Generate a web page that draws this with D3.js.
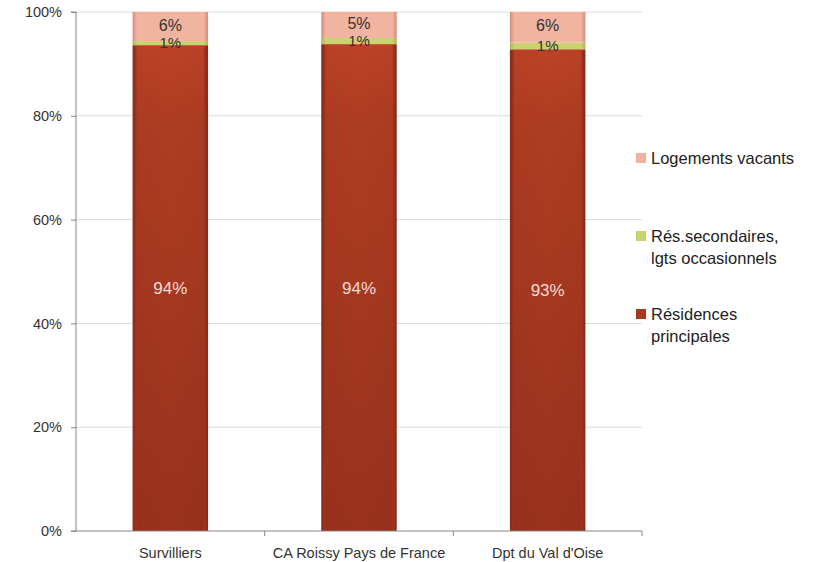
<!DOCTYPE html>
<html><head><meta charset="utf-8">
<script src="https://cdn.jsdelivr.net/npm/d3@7"></script>
<style>body{margin:0;background:#fff}</style>
</head><body>
<svg id="c" width="820" height="562"></svg>
<script>
const categories = ["Survilliers", "CA Roissy Pays de France", "Dpt du Val d'Oise"];
const principales = [93.6, 93.8, 92.8];
const secondaires = [0.8, 1.2, 1.3];
const vacants = [5.6, 5.0, 5.9];
const labelsPrincipales = ["94%", "94%", "93%"];
const labelsSecondaires = ["1%", "1%", "1%"];
const labelsVacants = ["6%", "5%", "6%"];
const yTicks = [0, 20, 40, 60, 80, 100];
const seriesNames = ["Résidences principales", "Rés.secondaires, lgts occasionnels", "Logements vacants"];

const svg = d3.select("#c");
const font = "Liberation Sans, Arial, sans-serif";
const m = {left: 76, right: 642, top: 12, bottom: 531};

const x = d3.scaleBand().domain(categories).range([m.left, m.right]).paddingInner(0.6).paddingOuter(0.3);
const xb = d3.scaleBand().domain(categories).range([m.left, m.right]);
const y = d3.scaleLinear().domain([0, 100]).range([m.bottom, m.top]);

const defs = svg.append("defs");
function grad(id, stops){
  const g = defs.append("linearGradient").attr("id", id).attr("x1",0).attr("x2",1).attr("y1",0).attr("y2",0);
  stops.forEach(s => g.append("stop").attr("offset", s[0]).attr("stop-color", s[1]));
}
grad("gP", [[0,"#862818"],[0.06,"#a5381f"],[0.5,"#ad3b21"],[0.94,"#a5381f"],[1,"#862818"]]);
grad("gS", [[0,"#a9b552"],[0.06,"#c9d46e"],[0.94,"#c9d46e"],[1,"#a9b552"]]);
grad("gV", [[0,"#d68c78"],[0.06,"#f1b4a1"],[0.94,"#f1b4a1"],[1,"#d68c78"]]);
const gV = defs.append("linearGradient").attr("id","gPv").attr("x1",0).attr("x2",0).attr("y1",0).attr("y2",1);
[[0,"#c9482a"],[0.15,"#b03e23"],[1,"#8a2a1a"]].forEach(s=>gV.append("stop").attr("offset",s[0]).attr("stop-color",s[1]));

// gridlines
svg.append("g").selectAll("line").data(yTicks.filter(t=>t>0)).join("line")
  .attr("x1", m.left).attr("x2", m.right).attr("y1", d=>y(d)).attr("y2", d=>y(d))
  .attr("stroke", "#d9d9d9").attr("stroke-width", 1);

// y axis
const ya = svg.append("g").attr("transform", `translate(${m.left},0)`)
  .call(d3.axisLeft(y).tickValues(yTicks).tickFormat(d=>d+"%").tickSize(5).tickPadding(9));
ya.selectAll("path,line").attr("stroke","#868686");
ya.selectAll("text").attr("font-family", font).attr("font-size", 14.5).attr("fill","#333");
ya.select(".domain").attr("d", `M-5,${m.top}H0V${m.bottom}`);

// stacked data
const rows = categories.map((c,i)=>({cat:c, p:principales[i], s:secondaires[i], v:vacants[i]}));
const stack = d3.stack().keys(["p","s","v"])(rows);
const fills = {p:"url(#gP)", s:"url(#gS)", v:"url(#gV)"};
const labs = {p:labelsPrincipales, s:labelsSecondaires, v:labelsVacants};

stack.forEach(layer=>{
  const k = layer.key;
  svg.append("g").selectAll("rect").data(layer).join("rect")
    .attr("x", d=>x(d.data.cat)).attr("width", x.bandwidth())
    .attr("y", d=>y(d[1])).attr("height", d=>y(d[0])-y(d[1]))
    .attr("fill", fills[k]);
});
// vertical shading overlay on principal
svg.append("g").selectAll("rect").data(stack[0]).join("rect")
  .attr("x", d=>x(d.data.cat)+4).attr("width", x.bandwidth()-8)
  .attr("y", d=>y(d[1])).attr("height", d=>y(d[0])-y(d[1]))
  .attr("fill", "url(#gPv)").attr("opacity", 0.55);

// labels
svg.append("g").selectAll("text").data(stack[0]).join("text")
  .attr("x", d=>x(d.data.cat)+x.bandwidth()/2).attr("y", d=>y((d[0]+d[1])/2)+6)
  .attr("text-anchor","middle").attr("font-family",font).attr("font-size",17).attr("fill","#f4ddd6")
  .text((d,i)=>labs.p[i]);
svg.append("g").selectAll("text").data(stack[1]).join("text")
  .attr("x", d=>x(d.data.cat)+x.bandwidth()/2).attr("y", d=>y((d[0]+d[1])/2)+5)
  .attr("text-anchor","middle").attr("font-family",font).attr("font-size",15).attr("fill","#333")
  .text((d,i)=>labs.s[i]);
svg.append("g").selectAll("text").data(stack[2]).join("text")
  .attr("x", d=>x(d.data.cat)+x.bandwidth()/2).attr("y", d=>y((d[0]+d[1])/2)+4)
  .attr("text-anchor","middle").attr("font-family",font).attr("font-size",16).attr("fill","#333")
  .text((d,i)=>labs.v[i]);

// x axis
const xa = svg.append("g").attr("transform", `translate(0,${m.bottom})`);
xa.append("line").attr("x1", m.left-5).attr("x2", m.right).attr("stroke","#868686");
xa.selectAll("line.t").data(categories).join("line").attr("class","t")
  .attr("x1", d=>xb(d)+xb.bandwidth()).attr("x2", d=>xb(d)+xb.bandwidth())
  .attr("y1",0).attr("y2",5).attr("stroke","#868686");
xa.selectAll("text").data(categories).join("text")
  .attr("x", d=>x(d)+x.bandwidth()/2).attr("y", 27)
  .attr("text-anchor","middle").attr("font-family",font).attr("font-size",14.5).attr("fill","#333")
  .text(d=>d);

// legend
const legend = [
  {name:"Logements vacants", lines:["Logements vacants"], fill:"url(#gV)", y:158},
  {name:"Rés.secondaires, lgts occasionnels", lines:["Rés.secondaires,","lgts occasionnels"], fill:"url(#gS)", y:236},
  {name:"Résidences principales", lines:["Résidences","principales"], fill:"url(#gP)", y:314}
];
const lg = svg.append("g").selectAll("g").data(legend).join("g").attr("transform", d=>`translate(636,${d.y})`);
lg.append("rect").attr("x",0).attr("y",-5).attr("width",10).attr("height",10).attr("fill", d=>d.fill);
lg.append("text").attr("x",15).attr("y",6).attr("font-family",font).attr("font-size",16.5).attr("fill","#222")
  .selectAll("tspan").data(d=>d.lines).join("tspan").attr("x",15).attr("dy",(d,i)=>i?22:0).text(d=>d);
</script>
</body></html>
